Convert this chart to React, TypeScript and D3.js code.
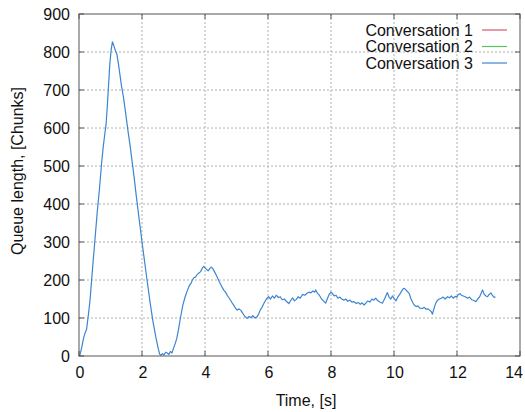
import React from "react";
import * as d3 from "d3";

const xTicks = [0, 2, 4, 6, 8, 10, 12, 14];
const yTicks = [0, 100, 200, 300, 400, 500, 600, 700, 800, 900];
const legendLabels = ["Conversation 1", "Conversation 2", "Conversation 3"];
const legendColors = ["#d05a6e", "#5cc25c", "#3d85d0"];

const times = [
  0.02, 0.08, 0.14, 0.19, 0.24, 0.3, 0.35, 0.42, 0.5, 0.58, 0.65, 0.72, 0.77, 0.82, 0.86, 0.9, 0.94, 0.98, 1.02, 1.06,
  1.1, 1.15, 1.2, 1.25, 1.3, 1.35, 1.41, 1.48, 1.55, 1.62, 1.68, 1.75, 1.82, 1.88, 1.94, 2.0, 2.08, 2.16, 2.26, 2.35,
  2.45, 2.52, 2.56, 2.6, 2.65, 2.7, 2.75, 2.8, 2.85, 2.9, 2.95, 3.0, 3.05, 3.1, 3.16, 3.22, 3.3, 3.37, 3.43, 3.5,
  3.56, 3.6, 3.64, 3.7, 3.75, 3.8, 3.86, 3.92, 3.96, 4.0, 4.05, 4.1, 4.15, 4.2, 4.25, 4.3, 4.38, 4.45, 4.52, 4.59,
  4.65, 4.72, 4.8, 4.86, 4.91, 4.97, 5.02, 5.08, 5.14, 5.2, 5.27, 5.34, 5.4, 5.46, 5.52, 5.58, 5.65, 5.7, 5.76, 5.81,
  5.88, 5.95, 6.02, 6.08, 6.14, 6.2, 6.26, 6.33, 6.39, 6.45, 6.52, 6.58, 6.66, 6.72, 6.78, 6.84, 6.9, 6.96, 7.02, 7.1,
  7.17, 7.24, 7.3, 7.36, 7.42, 7.48, 7.51, 7.57, 7.63, 7.7, 7.76, 7.83, 7.88, 7.94, 8.0, 8.04, 8.1, 8.16, 8.22, 8.28,
  8.34, 8.41, 8.47, 8.53, 8.6, 8.66, 8.73, 8.8, 8.86, 8.93, 8.99, 9.05, 9.11, 9.17, 9.23, 9.3, 9.36, 9.42, 9.48, 9.55,
  9.63, 9.7, 9.76, 9.79, 9.84, 9.9, 9.95, 10.0, 10.06, 10.12, 10.18, 10.24, 10.29, 10.33, 10.4, 10.48, 10.54, 10.6, 10.64, 10.7,
  10.76, 10.82, 10.9, 10.96, 11.02, 11.08, 11.14, 11.19, 11.22, 11.27, 11.32, 11.38, 11.44, 11.5, 11.56, 11.62, 11.7, 11.76, 11.82, 11.88,
  11.94, 12.0, 12.04, 12.1, 12.14, 12.2, 12.26, 12.34, 12.4, 12.47, 12.54, 12.6, 12.66, 12.72, 12.78, 12.81, 12.86, 12.92, 12.97, 13.02,
  13.08, 13.12, 13.18, 13.22,
];

const queue3 = [
  0, 20, 45, 60, 70, 110, 147, 220, 300, 380, 440, 510, 551, 585, 610, 660, 715, 770, 805, 827,
  818, 805, 795, 770, 740, 710, 682, 640, 595, 555, 516, 470, 420, 380, 340, 300, 250, 200, 139, 90,
  45, 18, 5, 2, 6, 3, 10, 8, 4, 12, 8, 20, 32, 45, 70, 100, 135, 156, 170, 185,
  192, 200, 205, 208, 214, 218, 222, 232, 236, 232, 228, 224, 230, 234, 230, 222, 209, 196, 185, 174,
  168, 158, 148, 140, 134, 126, 121, 124, 120, 112, 104, 99, 104, 101, 106, 100, 103, 110, 122, 128,
  140, 150, 156, 150, 158, 152, 160, 154, 156, 148, 150, 144, 138, 146, 153, 145, 149, 156, 152, 162,
  160, 165, 168, 166, 171, 168, 174, 165, 160, 150, 145, 139, 150, 162, 168, 165, 158, 160, 152, 155,
  150, 147, 150, 144, 147, 142, 143, 138, 141, 136, 140, 134, 140, 145, 142, 150, 147, 152, 146, 142,
  139, 150, 162, 167, 155, 150, 158, 152, 145, 155, 162, 170, 177, 178, 172, 165, 150, 140, 134, 130,
  132, 126, 125, 128, 123, 124, 120, 116, 110, 125, 138, 147, 150, 152, 155, 150, 156, 153, 158, 152,
  157, 155, 162, 164, 160, 158, 156, 152, 155, 148, 146, 143, 150, 156, 168, 174, 163, 158, 156, 162,
  166, 160, 154, 156,
];

const W = 525;
const H = 412;
const L = 79;
const R = 520;
const T = 14;
const B = 356;
const FONT = "'Liberation Sans', Arial, Helvetica, sans-serif";

export default function App() {
  const x = d3.scaleLinear().domain([0, 14]).range([L, R]);
  const y = d3.scaleLinear().domain([0, 900]).range([B, T]);
  const pts: [number, number][] = times.map((t, i) => [t, queue3[i]]);
  const line = d3
    .line<[number, number]>()
    .x((d) => x(d[0]))
    .y((d) => y(d[1]));
  const tickLen = 5;
  const legendY = [30, 46.5, 63];
  const lastX = xTicks[xTicks.length - 1];

  return (
    <svg
      width={W}
      height={H}
      style={{ position: "absolute", left: 0, top: 0, background: "#fff" }}
      fontFamily={FONT}
    >
      <rect x={0} y={0} width={W} height={H} fill="#fff" />
      {/* grid */}
      {xTicks.slice(1, -1).map((t) => (
        <line key={"gx" + t} x1={x(t)} x2={x(t)} y1={T} y2={B} stroke="#b0b0b0" strokeWidth={1} strokeDasharray="2,2" />
      ))}
      {yTicks.slice(1, -1).map((v) => (
        <line key={"gy" + v} x1={L} x2={R} y1={y(v)} y2={y(v)} stroke="#b0b0b0" strokeWidth={1} strokeDasharray="2,2" />
      ))}
      {/* data */}
      <path d={line(pts) || ""} fill="none" stroke="#3d85d0" strokeWidth={1.2} strokeLinejoin="round" />
      {/* frame */}
      <rect x={L} y={T} width={R - L} height={B - T} fill="none" stroke="#555" strokeWidth={1} />
      {xTicks.map((t) => (
        <g key={"tx" + t}>
          <line x1={x(t)} x2={x(t)} y1={B} y2={B - tickLen} stroke="#555" />
          <line x1={x(t)} x2={x(t)} y1={T} y2={T + tickLen} stroke="#555" />
          <text
            x={t === lastX ? 523 : x(t) + 1}
            y={378}
            textAnchor={t === lastX ? "end" : "middle"}
            fontSize={16}
            fill="#111"
          >
            {t}
          </text>
        </g>
      ))}
      {yTicks.map((v) => (
        <g key={"ty" + v}>
          <line x1={L} x2={L + tickLen} y1={y(v)} y2={y(v)} stroke="#555" />
          <line x1={R} x2={R - tickLen} y1={y(v)} y2={y(v)} stroke="#555" />
          <text x={70} y={y(v)} dy="0.35em" textAnchor="end" fontSize={16} fill="#111">
            {v}
          </text>
        </g>
      ))}
      {/* axis titles */}
      <text x={306} y={406} textAnchor="middle" fontSize={16} fill="#111">
        Time, [s]
      </text>
      <text
        transform={`translate(23,171) rotate(-90)`}
        textAnchor="middle"
        fontSize={16}
        fill="#111"
      >
        Queue length, [Chunks]
      </text>
      {/* legend */}
      {legendLabels.map((lab, i) => (
        <g key={lab}>
          <text x={473} y={legendY[i]} dy="0.35em" textAnchor="end" fontSize={16} fill="#111">
            {lab}
          </text>
          <line x1={482} x2={507} y1={legendY[i]} y2={legendY[i]} stroke={legendColors[i]} strokeWidth={1.2} />
        </g>
      ))}
    </svg>
  );
}
